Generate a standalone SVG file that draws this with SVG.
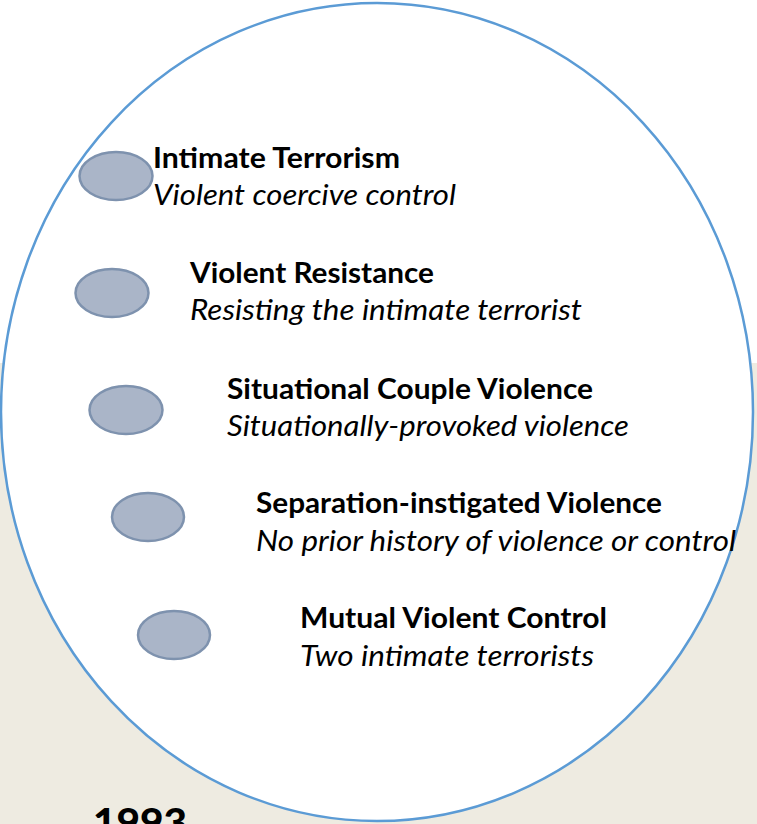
<svg xmlns="http://www.w3.org/2000/svg" width="757" height="824" viewBox="0 0 757 824">
  <style>
    .dot { fill: #AAB5C8; stroke: #7E92AE; stroke-width: 2.5; }
    .head { font-family: Lato, "Liberation Sans", sans-serif; font-weight: bold; font-size: 28px; fill: #000; }
    .sub { font-family: Lato, "Liberation Sans", sans-serif; font-style: italic; font-size: 28px; fill: #000; }
    .year { font-family: Lato, "Liberation Sans", sans-serif; font-weight: 900; font-size: 38px; fill: #000; }
  </style>
  <!-- page background: white top, beige lower band -->
  <rect x="0" y="0" width="757" height="824" fill="#FFFFFF"/>
  <rect x="0" y="363" width="757" height="461" fill="#EEEBE1"/>
  <text class="year" x="93" y="836" textLength="94" lengthAdjust="spacingAndGlyphs">1993</text>
  <!-- large enclosing oval -->
  <g id="oval">
    <ellipse cx="377" cy="412" rx="376" ry="409" fill="#FFFFFF" stroke="#5B9BD5" stroke-width="2.5"/>
  </g>
  <g id="connectors"></g>
  <g id="intimate-terrorism">
    <ellipse class="dot" cx="116" cy="176" rx="36.5" ry="24"/>
    <text class="head" x="153" y="168" textLength="247" lengthAdjust="spacingAndGlyphs">Intimate Terrorism</text>
    <text class="sub" x="153" y="205" textLength="303" lengthAdjust="spacingAndGlyphs">Violent coercive control</text>
  </g>
  <g id="violent-resistance">
    <ellipse class="dot" cx="112" cy="293" rx="36.5" ry="24"/>
    <text class="head" x="190" y="283" textLength="244" lengthAdjust="spacingAndGlyphs">Violent Resistance</text>
    <text class="sub" x="190" y="320" textLength="392" lengthAdjust="spacingAndGlyphs">Resisting the intimate terrorist</text>
  </g>
  <g id="situational-couple-violence">
    <ellipse class="dot" cx="126" cy="410" rx="36.5" ry="24"/>
    <text class="head" x="227" y="399" textLength="366" lengthAdjust="spacingAndGlyphs">Situational Couple Violence</text>
    <text class="sub" x="227" y="436" textLength="402" lengthAdjust="spacingAndGlyphs">Situationally-provoked violence</text>
  </g>
  <g id="separation-instigated-violence">
    <ellipse class="dot" cx="148" cy="517" rx="36" ry="24"/>
    <text class="head" x="256" y="513" textLength="406" lengthAdjust="spacingAndGlyphs">Separation-instigated Violence</text>
    <text class="sub" x="256" y="551" textLength="480" lengthAdjust="spacingAndGlyphs">No prior history of violence or control</text>
  </g>
  <g id="mutual-violent-control">
    <ellipse class="dot" cx="174" cy="635" rx="36" ry="24"/>
    <text class="head" x="300" y="628" textLength="307" lengthAdjust="spacingAndGlyphs">Mutual Violent Control</text>
    <text class="sub" x="300" y="666" textLength="294" lengthAdjust="spacingAndGlyphs">Two intimate terrorists</text>
  </g>
</svg>
